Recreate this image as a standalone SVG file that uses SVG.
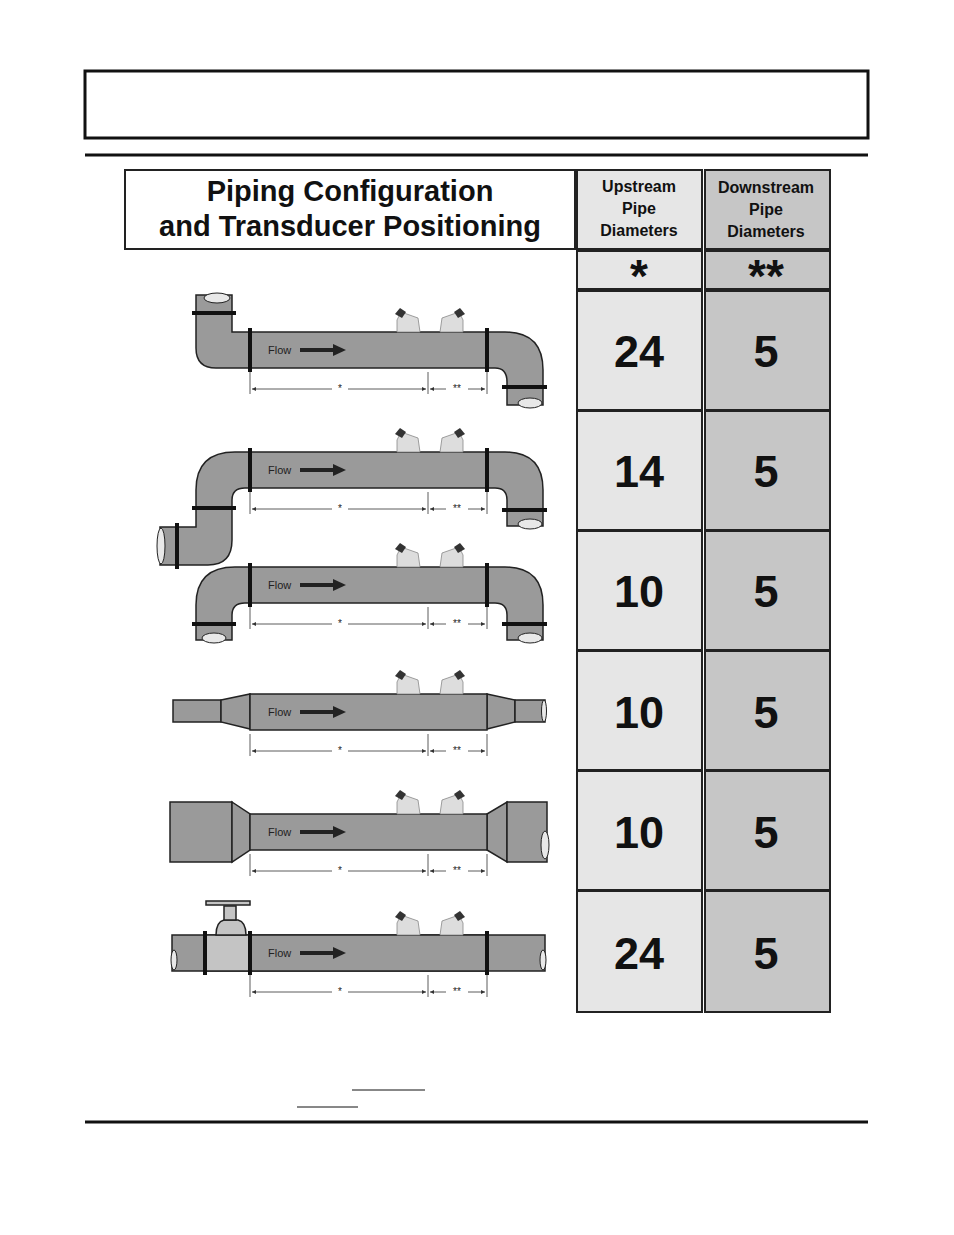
<svg xmlns="http://www.w3.org/2000/svg" width="954" height="1235" viewBox="0 0 954 1235">
<style>
.p{fill:#9a9a9a;stroke:#222;stroke-width:1.5}
.lt{fill:#c4c4c4;stroke:#222;stroke-width:1.5}
.fl{fill:none;stroke:#111;stroke-width:4}
.d{stroke:#333;stroke-width:0.8;fill:none}
.t{font-family:"Liberation Sans",Arial,sans-serif}
.h{font-family:"Liberation Sans",Arial,sans-serif;font-weight:bold;text-anchor:middle;fill:#111}
.c1{fill:#e6e6e6;stroke:#222;stroke-width:2}
.c2{fill:#c6c6c6;stroke:#222;stroke-width:2}
.e{fill:#e8e8e8;stroke:#222;stroke-width:1}
</style>
<defs>
<marker id="a" viewBox="0 0 6 6" refX="6" refY="3" markerWidth="5" markerHeight="5" orient="auto-start-reverse"><path d="M0,0L6,3L0,6Z" fill="#333"/></marker>
<g id="main">
<rect class="p" x="250" y="0" width="237" height="36"/>
<text class="t" x="268" y="22" font-size="11" fill="#222">Flow</text>
<path d="M300,18H335" stroke="#222" stroke-width="4"/><path d="M333,12L346,18L333,24Z" fill="#222"/>
<path d="M397,0V-12L401,-20L418,-14L420,0Z" fill="#ddd" stroke="#888" stroke-width="0.8"/>
<path d="M395,-18l5,-6l6,4l-4,6Z" fill="#333"/>
<path d="M463,0V-12L459,-20L442,-14L440,0Z" fill="#ddd" stroke="#888" stroke-width="0.8"/>
<path d="M465,-18l-5,-6l-6,4l4,6Z" fill="#333"/>
<path class="d" d="M250,40V62M428,40V62M487,40V62"/>
<path class="d" d="M252,57H332M348,57H426" marker-start="url(#a)" marker-end="url(#a)"/>
<path class="d" d="M430,57H446M468,57H485" marker-start="url(#a)" marker-end="url(#a)"/>
<text class="t" x="340" y="60" font-size="10" text-anchor="middle" fill="#222">*</text>
<text class="t" x="457" y="60" font-size="10" text-anchor="middle" fill="#222">**</text>
</g>
</defs>
<rect x="85" y="71" width="783" height="67" fill="none" stroke="#111" stroke-width="3"/>
<path d="M85,155H868M85,1122H868" stroke="#111" stroke-width="3"/>
<path d="M352,1090H425M297,1107H358" stroke="#111" stroke-width="1"/>

<g id="table">
<rect x="125" y="170" width="450" height="79" fill="#fff" stroke="#222" stroke-width="2"/>
<text class="h" x="350" y="201" font-size="29">Piping Configuration</text>
<text class="h" x="350" y="236" font-size="29">and Transducer Positioning</text>
<rect class="c1" x="577" y="170" width="125" height="79"/>
<rect class="c2" x="705" y="170" width="125" height="79"/>
<text class="h" x="639" y="192" font-size="16">Upstream</text>
<text class="h" x="639" y="214" font-size="16">Pipe</text>
<text class="h" x="639" y="236" font-size="16">Diameters</text>
<text class="h" x="766" y="193" font-size="16">Downstream</text>
<text class="h" x="766" y="215" font-size="16">Pipe</text>
<text class="h" x="766" y="237" font-size="16">Diameters</text>
<rect class="c1" x="577" y="251" width="125" height="38"/>
<rect class="c2" x="705" y="251" width="125" height="38"/>
<text class="h" x="639" y="292" font-size="46">*</text>
<text class="h" x="766" y="292" font-size="46">**</text>
<g class="h" font-size="45">
<rect class="c1" x="577" y="291" width="125" height="119"/><rect class="c2" x="705" y="291" width="125" height="119"/>
<text x="639" y="367">24</text><text x="766" y="367">5</text>
<rect class="c1" x="577" y="411" width="125" height="119"/><rect class="c2" x="705" y="411" width="125" height="119"/>
<text x="639" y="487">14</text><text x="766" y="487">5</text>
<rect class="c1" x="577" y="531" width="125" height="119"/><rect class="c2" x="705" y="531" width="125" height="119"/>
<text x="639" y="607">10</text><text x="766" y="607">5</text>
<rect class="c1" x="577" y="651" width="125" height="119"/><rect class="c2" x="705" y="651" width="125" height="119"/>
<text x="639" y="728">10</text><text x="766" y="728">5</text>
<rect class="c1" x="577" y="771" width="125" height="119"/><rect class="c2" x="705" y="771" width="125" height="119"/>
<text x="639" y="848">10</text><text x="766" y="848">5</text>
<rect class="c1" x="577" y="891" width="125" height="121"/><rect class="c2" x="705" y="891" width="125" height="121"/>
<text x="639" y="969">24</text><text x="766" y="969">5</text>
</g>
</g>

<g id="pipe1">
<path class="p" d="M232,295V332H250V368H216Q196,368 196,348V295Z"/>
<ellipse class="e" cx="217" cy="298" rx="13" ry="5"/>
<path class="fl" d="M192,313H236"/>
<path class="p" d="M487,332H505Q543,332 543,370V405H507V382Q507,368 495,368H487Z"/>
<ellipse class="e" cx="530" cy="403" rx="12" ry="5"/>
<path class="fl" d="M502,387H547"/>
<use href="#main" y="332"/>
<path class="fl" d="M250,328V372M487,328V372"/>
</g>
<g id="pipe2">
<path class="p" d="M250,452H235Q196,452 196,490V527H160V565H208Q232,565 232,540V500Q232,488 245,488H250Z"/>
<ellipse class="e" cx="161" cy="546" rx="4" ry="18"/>
<path class="fl" d="M192,508H236M177,523V569"/>
<path class="p" d="M487,452H505Q543,452 543,490V526H507V500Q507,488 495,488H487Z"/>
<ellipse class="e" cx="530" cy="524" rx="12" ry="5"/>
<path class="fl" d="M502,510H547"/>
<use href="#main" y="452"/>
<path class="fl" d="M250,448V492M487,448V492"/>
</g>
<g id="pipe3">
<path class="p" d="M250,567H235Q196,567 196,605V640H232V615Q232,603 245,603H250Z"/>
<ellipse class="e" cx="214" cy="638" rx="12" ry="5"/>
<path class="fl" d="M192,624H236"/>
<path class="p" d="M487,567H505Q543,567 543,605V640H507V615Q507,603 495,603H487Z"/>
<ellipse class="e" cx="530" cy="638" rx="12" ry="5"/>
<path class="fl" d="M502,624H547"/>
<use href="#main" y="567"/>
<path class="fl" d="M250,563V607M487,563V607"/>
</g>
<g id="pipe4">
<rect class="p" x="173" y="700" width="48" height="22"/>
<path class="p" d="M221,700L250,694V729L221,722Z"/>
<path class="p" d="M487,694L515,700V722L487,729Z"/>
<rect class="p" x="515" y="700" width="30" height="22"/>
<ellipse class="e" cx="544" cy="711" rx="2.5" ry="11"/>
<use href="#main" y="694"/>
</g>
<g id="pipe5">
<rect class="p" x="170" y="802" width="62" height="60"/>
<path class="p" d="M232,802L250,814V850L232,862Z"/>
<path class="p" d="M487,814L507,802V862L487,850Z"/>
<rect class="p" x="507" y="802" width="40" height="60"/>
<ellipse class="e" cx="545" cy="845" rx="4" ry="14"/>
<use href="#main" y="814"/>
</g>
<g id="pipe6">
<rect class="p" x="172" y="935" width="373" height="36"/>
<ellipse class="e" cx="174" cy="960" rx="3" ry="10"/>
<ellipse class="e" cx="543" cy="960" rx="3" ry="10"/>
<path class="lt" d="M206,935H250V971H206Z"/>
<path class="lt" d="M216,935Q216,922 224,920H238Q246,922 246,935Z"/>
<rect class="lt" x="224" y="906" width="12" height="14"/>
<rect class="lt" x="206" y="901" width="44" height="4"/>
<use href="#main" y="935"/>
<path class="fl" d="M205,931V975M250,931V975M487,931V975"/>
</g>
</svg>
